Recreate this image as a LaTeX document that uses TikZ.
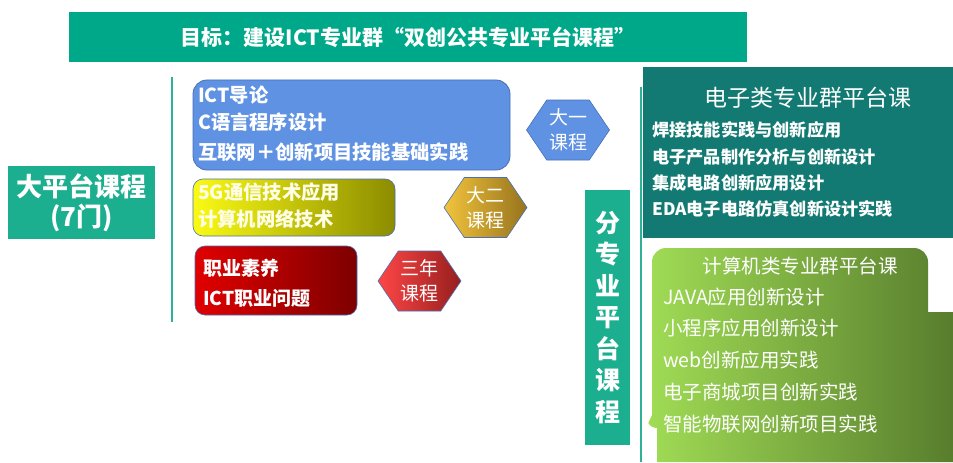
\documentclass[tikz,border=0pt]{standalone}
\usepackage{fontspec}
\newfontfamily\cjk{Noto Sans CJK SC}
\usetikzlibrary{shapes.symbols}
\definecolor{bannerc}{RGB}{0,168,138}
\definecolor{tealbox}{RGB}{27,175,143}
\definecolor{linec}{RGB}{45,178,152}
\definecolor{bluec}{RGB}{95,146,226}
\definecolor{blueb}{RGB}{72,112,185}
\definecolor{elecc}{RGB}{18,122,114}
\definecolor{yelL}{RGB}{250,250,20}
\definecolor{yelR}{RGB}{140,140,0}
\definecolor{redL}{RGB}{225,0,0}
\definecolor{redR}{RGB}{125,0,0}
\definecolor{goldL}{RGB}{242,196,60}
\definecolor{goldR}{RGB}{150,115,30}
\definecolor{hredL}{RGB}{255,70,70}
\definecolor{hredR}{RGB}{150,30,30}
\definecolor{grnL}{RGB}{160,220,85}
\definecolor{grnR}{RGB}{88,125,45}
\tikzset{
  fs/.style={font=\cjk\fontsize{#1}{#1}\selectfont},
  fsb/.style={font=\cjk\bfseries\fontsize{#1}{#1}\selectfont},
  txt/.style={text=white, inner sep=0pt, anchor=west},
  hexa/.style={shape=signal, signal to=west and east, signal pointer angle=112,
    minimum width=83pt, minimum height=60pt, inner sep=0pt, draw=blueb, line width=0.6pt,
    text=white, align=center, font=\cjk\fontsize{19}{25}\selectfont},
  vline/.style={draw=linec, line width=1.6pt},
}
\begin{document}
\begin{tikzpicture}[x=1pt,y=-1pt]
\fill[white] (0,0) rectangle (953,462);
% banner
\node[fill=bannerc, minimum width=678pt, minimum height=50pt, inner sep=0pt, text=white, fsb=21]
  (banner) at (408,37) {目标：建设ICT专业群“双创公共专业平台课程”};
% left box
\node[fill=tealbox, minimum width=147pt, minimum height=73pt, inner sep=0pt, text=white,
  align=center, font=\cjk\bfseries\fontsize{26}{30}\selectfont]
  (big) at (81.5,202.5) {大平台课程\\(7门)};
% lines
\coordinate (l1a) at (172,77); \coordinate (l1b) at (172,322);
\draw[vline] (l1a) -- (l1b);
\coordinate (l2a) at (641,87); \coordinate (l2b) at (641,462);
\draw[vline] (l2a) -- (l2b);
% blue box
\node[fill=bluec, draw=blueb, line width=0.8pt, rounded corners=14pt, minimum width=317pt,
  minimum height=90pt] (blue) at (351.5,125) {};
\node[txt, fsb=19.3] (b1) at (198,95) {ICT导论};
\node[txt, fsb=19.3] (b2) at (198,122) {C语言程序设计};
\node[txt, fsb=19.3] (b3) at (198,152) {互联网＋创新项目技能基础实践};
% yellow box
\node[left color=yelL, right color=yelR, draw=blueb, line width=0.6pt, rounded corners=10pt,
  minimum width=202pt, minimum height=57pt] (yel) at (294,207.5) {};
\node[txt, fsb=19.3, text=white!90!yellow] (y1) at (198,192) {5G通信技术应用};
\node[txt, fsb=19.3, text=white!90!yellow] (y2) at (198,219) {计算机网络技术};
% red box
\node[left color=redL, right color=redR, draw=blueb, line width=0.6pt, rounded corners=10pt,
  minimum width=162pt, minimum height=69pt] (red) at (276,280.5) {};
\node[txt, fsb=19] (r1) at (203,268) {职业素养};
\node[txt, fsb=19] (r2) at (203,298) {ICT职业问题};
% hexagons
\node[hexa, fill=bluec] (h1) at (568,130) {大一\\课程};
\node[hexa, left color=goldL, right color=goldR] (h2) at (485.5,207.5) {大二\\课程};
\node[hexa, left color=hredL, right color=hredR] (h3) at (419.5,281) {三年\\课程};
% vertical label
\node[fill=tealbox, minimum width=45pt, minimum height=255pt, inner sep=0pt, text=white,
  align=center, font=\cjk\bfseries\fontsize{25}{31.5}\selectfont]
  (fen) at (607.5,317.5) {分\\专\\业\\平\\台\\课\\程};
% electronics box
\node[fill=elecc, minimum width=310pt, minimum height=171pt, inner sep=0pt] (elec) at (798,152.5) {};
\node[text=white, inner sep=0pt, fs=23] (et) at (808,98) {电子类专业群平台课};
\node[txt, fsb=17.2] (e1) at (652,130) {焊接技能实践与创新应用};
\node[txt, fsb=17.2] (e2) at (652,157) {电子产品制作分析与创新设计};
\node[txt, fsb=17.2] (e3) at (652,183) {集成电路创新应用设计};
\node[txt, fsb=17.2] (e4) at (652,209) {EDA电子电路仿真创新设计实践};
% computer box
\shade[left color=grnL, right color=grnR]
  (652,262) arc[start angle=180, end angle=270, radius=14] -- (914,248)
  arc[start angle=270, end angle=360, radius=14] -- (928,312) -- (953,312) -- (953,462)
  -- (657,462) -- (657,428) arc[start angle=90, end angle=150, radius=10] -- (652,415) -- cycle;
\node[text=white, inner sep=0pt, fs=19.5] (ct) at (800,266) {计算机类专业群平台课};
\node[txt, fs=19.5] (c1) at (663,297) {JAVA应用创新设计};
\node[txt, fs=19.5] (c2) at (663,328) {小程序应用创新设计};
\node[txt, fs=19.5] (c3) at (663,360) {web创新应用实践};
\node[txt, fs=19.5] (c4) at (663,392) {电子商城项目创新实践};
\node[txt, fs=19.5] (c5) at (663,424) {智能物联网创新项目实践};
\end{tikzpicture}
\end{document}
